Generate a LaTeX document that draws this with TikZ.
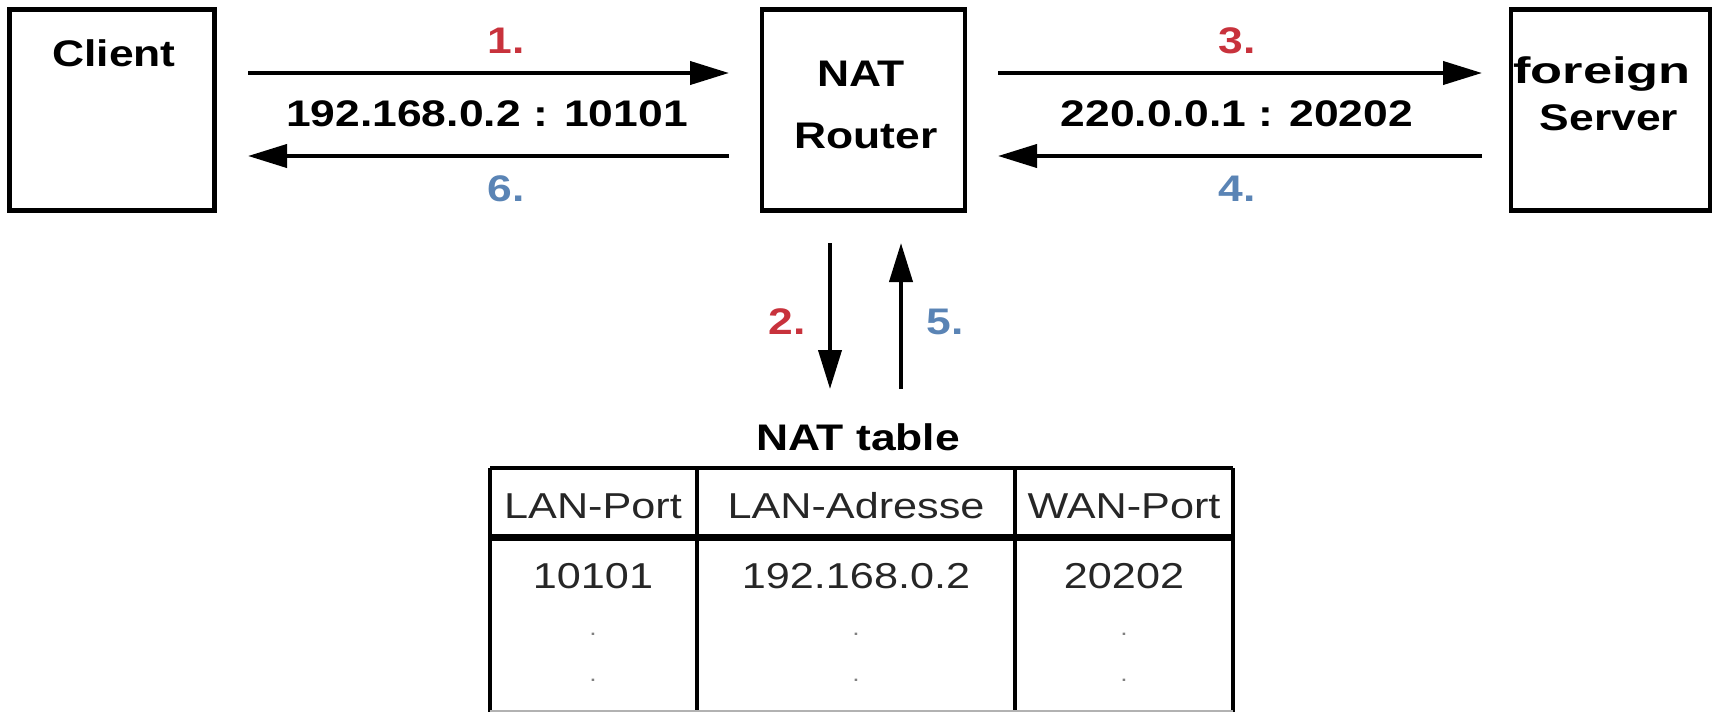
\documentclass[tikz,border=0pt]{standalone}
\usepackage{fontspec}
\setmainfont{Liberation Sans}[FakeStretch=1.2]
\usetikzlibrary{arrows.meta}
\definecolor{stepred}{HTML}{C8323C}
\definecolor{stepblue}{HTML}{5A84B5}
\definecolor{celltext}{HTML}{262626}
\tikzset{
  box/.style={draw, line width=4.5pt, inner sep=0pt},
  flow/.style={line width=4pt, -{Triangle[length=39pt,width=23pt]}},
  lbl/.style={font=\fontsize{37}{40}\selectfont\bfseries, inner sep=0pt},
  req/.style={lbl, text=stepred},
  resp/.style={lbl, text=stepblue},
  cell/.style={font=\fontsize{36}{40}\selectfont, text=celltext, inner sep=0pt},
  rowdot/.style={font=\fontsize{22}{22}\selectfont, text=gray, inner sep=0pt},
  grid/.style={line width=4.5pt},
}
\begin{document}
\begin{tikzpicture}[x=1pt, y=-1pt]
\useasboundingbox (0,0) rectangle (1719,712);
% the three hosts
\node[box, minimum width=205pt, minimum height=201pt] (client) at (112,110) {};
\node[box, minimum width=203pt, minimum height=201pt] (router) at (863.5,110) {};
\node[box, minimum width=199pt, minimum height=201pt] (server) at (1610.5,110) {};
\node[lbl] (clienttxt) at (114,53) {Client};
\node[lbl] (nattxt) at (861,74) {NAT};
\node[lbl] (routertxt) at (866,136) {Router};
\node[lbl] (foreigntxt) at (1602,74) {\scalebox{1.18}[1]{foreign}};
\node[lbl] (servertxt) at (1609,118) {Server};
% connector end points
\coordinate (c1) at (248,73);
\coordinate (r1) at (729,73);
\coordinate (c6) at (248,156);
\coordinate (r6) at (729,156);
\coordinate (r3) at (998,73);
\coordinate (s3) at (1482,73);
\coordinate (r4) at (998,156);
\coordinate (s4) at (1482,156);
\coordinate (d2a) at (830,243);
\coordinate (d2b) at (830,389);
\coordinate (u5a) at (901,389);
\coordinate (u5b) at (901,243);
\draw[flow] (c1) -- (r1);
\draw[flow] (r6) -- (c6);
\draw[flow] (r3) -- (s3);
\draw[flow] (s4) -- (r4);
\draw[flow] (d2a) -- (d2b);
\draw[flow] (u5a) -- (u5b);
% step numbers and addresses
\node[req] (n1) at (506,41) {1.};
\node[resp] (n6) at (506,189) {6.};
\node[req] (n3) at (1237,41) {3.};
\node[resp] (n4) at (1237,189) {4.};
\node[req] (n2) at (787,322) {2.};
\node[resp] (n5) at (945,322) {5.};
\node[lbl] (lanaddr) at (487,114) {192.168.0.2 : 10101};
\node[lbl] (wanaddr) at (1237,114) {220.0.0.1 : 20202};
% NAT table
\node[lbl] (tabtitle) at (858,437) {NAT table};
\draw[grid] (490,468) -- (1233,468);
\draw[grid] (490,468) -- (490,712);
\draw[grid] (1233,468) -- (1233,712);
\draw[grid] (697,468) -- (697,712);
\draw[grid] (1015,468) -- (1015,712);
\draw[line width=7pt] (490,537) -- (1233,537);
\draw[line width=2pt, gray!60] (490,711) -- (1233,711);
\node[cell] (h1) at (593,506) {LAN-Port};
\node[cell] (h2) at (856,506) {LAN-Adresse};
\node[cell] (h3) at (1124,506) {WAN-Port};
\node[cell] (v1) at (593,576) {10101};
\node[cell] (v2) at (856,576) {192.168.0.2};
\node[cell] (v3) at (1124,576) {20202};
\foreach \x/\n in {593/a,856/b,1124/c}{
  \node[rowdot] (dot1\n) at (\x,634) {.};
  \node[rowdot] (dot2\n) at (\x,680) {.};
}
\end{tikzpicture}
\end{document}
